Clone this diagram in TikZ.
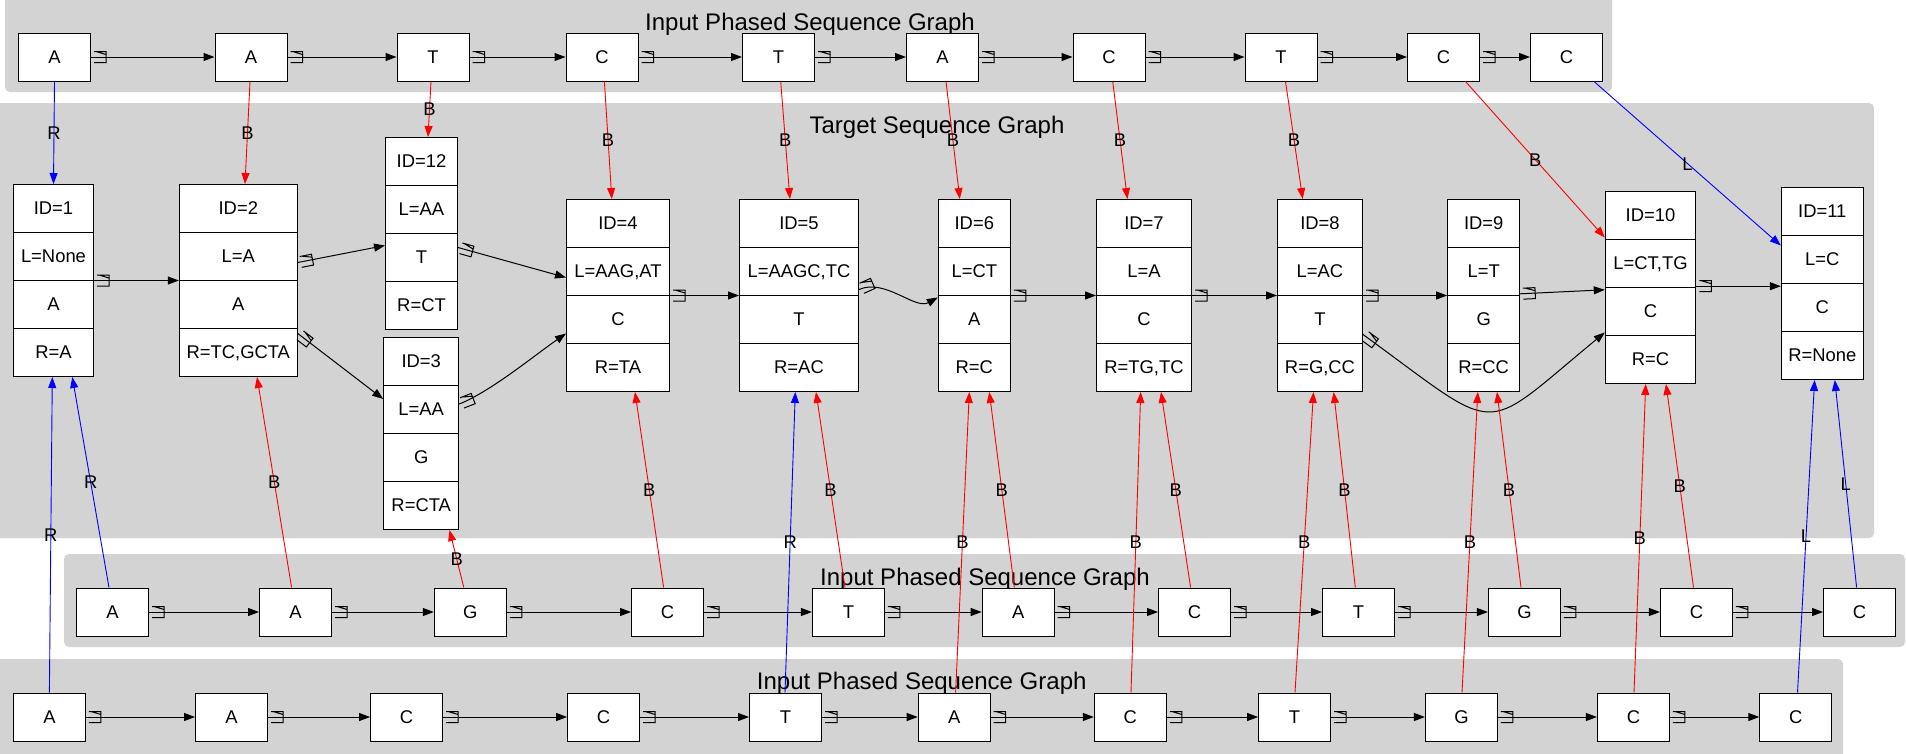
\documentclass[tikz,border=0pt]{standalone}
\usepackage{fontspec}
\setmainfont{Liberation Sans}
\usetikzlibrary{arrows.meta}
\definecolor{clustergray}{HTML}{D3D3D3}
\newcommand{\gnodefont}{\fontsize{18.4}{22}\selectfont}
\newcommand{\gtitlefont}{\fontsize{24}{28}\selectfont}

% open box mark at the tail of the sequence links
\pgfdeclarearrow{
  name = Tail Box,
  setup code = {
    \pgfarrowssettipend{0pt}
    \pgfarrowssetlineend{0pt}
    \pgfarrowssetbackend{-16pt}
    \pgfarrowsupperhullpoint{-16pt}{6pt}
    \pgfarrowsupperhullpoint{0pt}{6pt}
  },
  drawing code = {
    \pgfsetdash{}{0pt}
    \pgfpathmoveto{\pgfpoint{-3pt}{5.5pt}}
    \pgfpathlineto{\pgfpoint{-15pt}{5.5pt}}
    \pgfpathlineto{\pgfpoint{-15pt}{-5.5pt}}
    \pgfpathlineto{\pgfpoint{-3pt}{-5.5pt}}
    \pgfpathmoveto{\pgfpoint{-5pt}{-5.5pt}}
    \pgfpathlineto{\pgfpoint{-15pt}{-2.5pt}}
    \pgfusepathqstroke
  },
}

% record node: name, x, top y, width, four fields
\newcommand{\seqrec}[8]{%
  \draw (#2,#3) node[recbox, anchor=north, minimum width=#4] (#1) {};
  \draw[recline] ([yshift=-48pt]#1.north west) -- ([yshift=-48pt]#1.north east);
  \draw[recline] ([yshift=-96pt]#1.north west) -- ([yshift=-96pt]#1.north east);
  \draw[recline] ([yshift=-144pt]#1.north west) -- ([yshift=-144pt]#1.north east);
  \node[field] (#1f1) at ([yshift=-24pt]#1.north) {#5};
  \node[field] (#1f2) at ([yshift=-72pt]#1.north) {#6};
  \node[field] (#1f3) at ([yshift=-120pt]#1.north) {#7};
  \node[field] (#1f4) at ([yshift=-168pt]#1.north) {#8};
}

\begin{document}
\begin{tikzpicture}[x=1pt, y=-1pt,
  seqnode/.style={draw, fill=white, line width=1pt, minimum width=72, minimum height=48,
    inner sep=0pt, font=\gnodefont, text height=13.2pt, text depth=0pt},
  recbox/.style={draw, fill=white, line width=1pt, minimum height=192, inner sep=0pt},
  recline/.style={line width=1pt},
  field/.style={inner sep=0pt, font=\gnodefont, text height=13.2pt, text depth=0pt},
  title/.style={anchor=base, inner sep=0pt, font=\gtitlefont},
  cluster/.style={fill=clustergray, rounded corners=5pt},
  link/.style={line width=1pt, {Tail Box}-{Triangle[length=11pt,width=8pt]}},
  rlink/.style={red, line width=0.9pt, -{Triangle[length=11pt,width=8pt]}},
  blink/.style={blue, line width=0.9pt, -{Triangle[length=11pt,width=8pt]}},
  elabel/.style={text=black, inner sep=0pt, font=\gnodefont, text height=13.2pt, text depth=0pt}]
  \useasboundingbox (0,0) rectangle (1906,753);

  % clusters
  \fill[cluster] (5,-10) rectangle (1612,92);
  \fill[cluster] (-10,103) rectangle (1874,538);
  \fill[cluster] (64,554) rectangle (1905,647);
  \fill[cluster] (-10,659) rectangle (1843,763);
  \node[title] (ttop) at (810,30) {Input Phased Sequence Graph};
  \node[title] (ttarget) at (937,133.3) {Target Sequence Graph};
  \node[title] (tmid) at (985,585) {Input Phased Sequence Graph};
  \node[title] (tbot) at (921.7,689) {Input Phased Sequence Graph};

  % top input graph
  \draw (54.5,57) node[seqnode] (a1) {A};
  \draw (251,57) node[seqnode] (a2) {A};
  \draw (433,57) node[seqnode] (a3) {T};
  \draw (602,57) node[seqnode] (a4) {C};
  \draw (778.5,57) node[seqnode] (a5) {T};
  \draw (942.5,57) node[seqnode] (a6) {A};
  \draw (1109,57) node[seqnode] (a7) {C};
  \draw (1281,57) node[seqnode] (a8) {T};
  \draw (1443.5,57) node[seqnode] (a9) {C};
  \draw (1566.5,57) node[seqnode] (a10) {C};

  % target graph
  \seqrec{t1}{53.5}{184}{80}{ID=1}{L=None}{A}{R=A}
  \seqrec{t2}{238.3}{184}{118}{ID=2}{L=A}{A}{R=TC,GCTA}
  \seqrec{t12}{421.5}{137}{72}{ID=12}{L=AA}{T}{R=CT}
  \seqrec{t3}{421.2}{337}{75}{ID=3}{L=AA}{G}{R=CTA}
  \seqrec{t4}{618}{199}{103}{ID=4}{L=AAG,AT}{C}{R=TA}
  \seqrec{t5}{799}{199}{119}{ID=5}{L=AAGC,TC}{T}{R=AC}
  \seqrec{t6}{974.3}{199}{72}{ID=6}{L=CT}{A}{R=C}
  \seqrec{t7}{1144}{199}{95}{ID=7}{L=A}{C}{R=TG,TC}
  \seqrec{t8}{1320}{199}{85}{ID=8}{L=AC}{T}{R=G,CC}
  \seqrec{t9}{1483.7}{199}{72}{ID=9}{L=T}{G}{R=CC}
  \seqrec{t10}{1650.5}{191}{90.5}{ID=10}{L=CT,TG}{C}{R=C}
  \seqrec{t11}{1822.3}{187}{82}{ID=11}{L=C}{C}{R=None}

  % middle input graph
  \draw (112.5,612) node[seqnode] (b1) {A};
  \draw (295.5,612) node[seqnode] (b2) {A};
  \draw (470.3,612) node[seqnode] (b3) {G};
  \draw (667.5,612) node[seqnode] (b4) {C};
  \draw (848.4,612) node[seqnode] (b5) {T};
  \draw (1018.2,612) node[seqnode] (b6) {A};
  \draw (1194.5,612) node[seqnode] (b7) {C};
  \draw (1358.5,612) node[seqnode] (b8) {T};
  \draw (1524.4,612) node[seqnode] (b9) {G};
  \draw (1696.4,612) node[seqnode] (b10) {C};
  \draw (1859.5,612) node[seqnode] (b11) {C};

  % bottom input graph
  \draw (49.4,717) node[seqnode] (c1) {A};
  \draw (231.5,717) node[seqnode] (c2) {A};
  \draw (406.6,717) node[seqnode] (c3) {C};
  \draw (603.6,717) node[seqnode] (c4) {C};
  \draw (785.5,717) node[seqnode] (c5) {T};
  \draw (954.2,717) node[seqnode] (c6) {A};
  \draw (1130.3,717) node[seqnode] (c7) {C};
  \draw (1294.6,717) node[seqnode] (c8) {T};
  \draw (1461.4,717) node[seqnode] (c9) {G};
  \draw (1633.4,717) node[seqnode] (c10) {C};
  \draw (1795.8,717) node[seqnode] (c11) {C};

  % sequence links
  \draw[link] (a1.east) -- (a2.west);
  \draw[link] (a2.east) -- (a3.west);
  \draw[link] (a3.east) -- (a4.west);
  \draw[link] (a4.east) -- (a5.west);
  \draw[link] (a5.east) -- (a6.west);
  \draw[link] (a6.east) -- (a7.west);
  \draw[link] (a7.east) -- (a8.west);
  \draw[link] (a8.east) -- (a9.west);
  \draw[link] (a9.east) -- (a10.west);

  \draw[link] (t1.east) -- (t2.west);
  \draw[link] ([yshift=18pt]t2.east) -- ([yshift=-12pt]t12.west);
  \draw[link] ([yshift=-53pt]t2.east) -- ([yshift=34.5pt]t3.west);
  \draw[link] ([yshift=-14pt]t12.east) -- ([yshift=18pt]t4.west);
  \draw[link] ([yshift=29.5pt]t3.east) .. controls (490,392) and (535,355) .. ([yshift=-38pt]t4.west);
  \draw[link] (t4.east) -- (t5.west);
  \draw[link] ([yshift=6pt]t5.east) .. controls (885,278) and (915,310) .. ([yshift=-2pt]t6.west);
  \draw[link] (t6.east) -- (t7.west);
  \draw[link] (t7.east) -- (t8.west);
  \draw[link] (t8.east) -- (t9.west);
  \draw[link] ([yshift=1.7pt]t9.east) -- ([yshift=-2.3pt]t10.west);
  \draw[link] ([yshift=1.3pt]t10.east) -- ([yshift=-2.7pt]t11.west);
  \draw[link] ([yshift=-39pt]t8.east) .. controls (1504,437) and (1478,437) .. ([yshift=-45pt]t10.west);

  \draw[link] (b1.east) -- (b2.west);
  \draw[link] (b2.east) -- (b3.west);
  \draw[link] (b3.east) -- (b4.west);
  \draw[link] (b4.east) -- (b5.west);
  \draw[link] (b5.east) -- (b6.west);
  \draw[link] (b6.east) -- (b7.west);
  \draw[link] (b7.east) -- (b8.west);
  \draw[link] (b8.east) -- (b9.west);
  \draw[link] (b9.east) -- (b10.west);
  \draw[link] (b10.east) -- (b11.west);

  \draw[link] (c1.east) -- (c2.west);
  \draw[link] (c2.east) -- (c3.west);
  \draw[link] (c3.east) -- (c4.west);
  \draw[link] (c4.east) -- (c5.west);
  \draw[link] (c5.east) -- (c6.west);
  \draw[link] (c6.east) -- (c7.west);
  \draw[link] (c7.east) -- (c8.west);
  \draw[link] (c8.east) -- (c9.west);
  \draw[link] (c9.east) -- (c10.west);
  \draw[link] (c10.east) -- (c11.west);

  % top input graph to target
  \draw[blink] (a1.south) -- (t1.north) node[elabel, midway] (la1) {R};
  \draw[rlink] ([xshift=-1pt]a2.south) -- ([xshift=6.7pt]t2.north) node[elabel, midway] (la2) {B};
  \draw[rlink] ([xshift=-2pt]a3.south) -- ([xshift=6.5pt]t12.north) node[elabel, midway] (la3) {B};
  \draw[rlink] ([xshift=2.4pt]a4.south) -- ([xshift=-6.2pt]t4.north) node[elabel, midway] (la4) {B};
  \draw[rlink] ([xshift=2.2pt]a5.south) -- ([xshift=-9.1pt]t5.north) node[elabel, midway] (la5) {B};
  \draw[rlink] ([xshift=3.5pt]a6.south) -- ([xshift=-14.5pt]t6.north) node[elabel, midway] (la6) {B};
  \draw[rlink] ([xshift=3.7pt]a7.south) -- ([xshift=-16.6pt]t7.north) node[elabel, midway] (la7) {B};
  \draw[rlink] ([xshift=4.5pt]a8.south) -- ([xshift=-17.3pt]t8.north) node[elabel, midway] (la8) {B};
  \draw[rlink] ([xshift=22pt]a9.south) -- ([yshift=50pt]t10.west) node[elabel, midway] (la9) {B};
  \draw[blink] ([xshift=27.5pt]a10.south) -- ([yshift=38pt]t11.west) node[elabel, midway] (la10) {L};

  % middle input graph to target
  \draw[blink] ([xshift=-3.5pt]b1.north) -- ([xshift=18.8pt]t1.south) node[elabel, midway] (lb1) {R};
  \draw[rlink] ([xshift=-3.9pt]b2.north) -- ([xshift=18.7pt]t2.south) node[elabel, midway] (lb2) {B};
  \draw[rlink] ([xshift=-6.5pt]b3.north) -- ([xshift=28.3pt]t3.south) node[elabel, midway] (lb3) {B};
  \draw[rlink] ([xshift=-3.9pt]b4.north) -- ([xshift=17pt]t4.south) node[elabel, midway] (lb4) {B};
  \draw[rlink] ([xshift=-3.4pt]b5.north) -- ([xshift=17pt]t5.south) node[elabel, midway] (lb5) {B};
  \draw[rlink] ([xshift=-3.9pt]b6.north) -- ([xshift=15pt]t6.south) node[elabel, midway] (lb6) {B};
  \draw[rlink] ([xshift=-3.9pt]b7.north) -- ([xshift=17pt]t7.south) node[elabel, midway] (lb7) {B};
  \draw[rlink] ([xshift=-3.2pt]b8.north) -- ([xshift=13.7pt]t8.south) node[elabel, midway] (lb8) {B};
  \draw[rlink] ([xshift=-3.4pt]b9.north) -- ([xshift=13.3pt]t9.south) node[elabel, midway] (lb9) {B};
  \draw[rlink] ([xshift=-2.9pt]b10.north) -- ([xshift=15.5pt]t10.south) node[elabel, midway] (lb10) {B};
  \draw[blink] ([xshift=-2.9pt]b11.north) -- ([xshift=12.5pt]t11.south) node[elabel, midway] (lb11) {L};

  % bottom input graph to target
  \draw[blink] (c1.north) -- ([xshift=-1.2pt]t1.south) node[elabel, midway] (lc1) {R};
  \draw[blink] ([xshift=-0.5pt]c5.north) -- ([xshift=-3.7pt]t5.south) node[elabel, midway] (lc5) {R};
  \draw[rlink] ([xshift=1.4pt]c6.north) -- ([xshift=-5pt]t6.south) node[elabel, midway] (lc6) {B};
  \draw[rlink] ([xshift=0.7pt]c7.north) -- ([xshift=-3.3pt]t7.south) node[elabel, midway] (lc7) {B};
  \draw[rlink] ([xshift=0.4pt]c8.north) -- ([xshift=-6.5pt]t8.south) node[elabel, midway] (lc8) {B};
  \draw[rlink] ([xshift=0.6pt]c9.north) -- ([xshift=-5.9pt]t9.south) node[elabel, midway] (lc9) {B};
  \draw[rlink] ([xshift=0.6pt]c10.north) -- ([xshift=-4.8pt]t10.south) node[elabel, midway] (lc10) {B};
  \draw[blink] ([xshift=1.7pt]c11.north) -- ([xshift=-7.7pt]t11.south) node[elabel, midway] (lc11) {L};
\end{tikzpicture}
\end{document}
